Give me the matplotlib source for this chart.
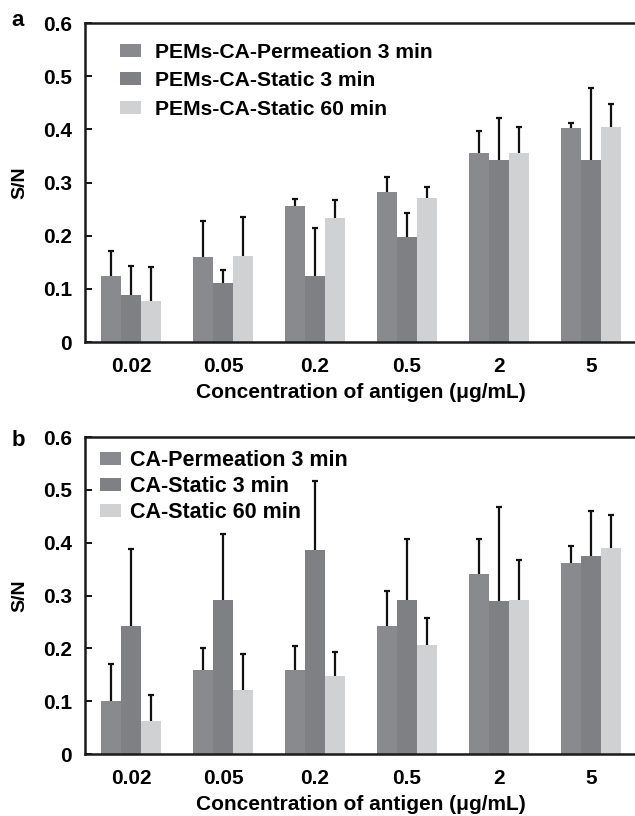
import numpy as np
import matplotlib
matplotlib.use("Agg")
import matplotlib.pyplot as plt

plt.rcParams['font.family'] = ['Liberation Sans', 'DejaVu Sans']
plt.rcParams['font.weight'] = 'bold'
plt.rcParams['axes.labelweight'] = 'bold'

concentrations = ['0.02', '0.05', '0.2', '0.5', '2', '5']

# panel a: PEMs-CA
a_labels = ['PEMs-CA-Permeation 3 min', 'PEMs-CA-Static 3 min', 'PEMs-CA-Static 60 min']
a_perm3 = [0.125, 0.160, 0.256, 0.282, 0.355, 0.403]
a_perm3_top = [0.172, 0.228, 0.269, 0.311, 0.397, 0.412]
a_stat3 = [0.088, 0.111, 0.125, 0.198, 0.343, 0.343]
a_stat3_top = [0.143, 0.135, 0.215, 0.242, 0.422, 0.478]
a_stat60 = [0.077, 0.161, 0.233, 0.270, 0.356, 0.404]
a_stat60_top = [0.142, 0.235, 0.267, 0.292, 0.405, 0.448]

# panel b: CA
b_labels = ['CA-Permeation 3 min', 'CA-Static 3 min', 'CA-Static 60 min']
b_perm3 = [0.100, 0.159, 0.159, 0.242, 0.340, 0.362]
b_perm3_top = [0.171, 0.201, 0.204, 0.309, 0.406, 0.393]
b_stat3 = [0.242, 0.291, 0.387, 0.291, 0.290, 0.375]
b_stat3_top = [0.388, 0.416, 0.516, 0.406, 0.467, 0.460]
b_stat60 = [0.062, 0.122, 0.147, 0.206, 0.291, 0.389]
b_stat60_top = [0.111, 0.190, 0.194, 0.257, 0.367, 0.453]

colors = ['#898a8e', '#7f8084', '#d0d1d3']
W, H = 635, 816


def panel(ax, series, tops, labels, leg):
    x = np.arange(len(concentrations))
    w = 0.22
    for i, (vals, top) in enumerate(zip(series, tops)):
        xi = x + (i - 1) * w
        ax.bar(xi, vals, w, color=colors[i], label=labels[i], zorder=2)
        # upper error bar only, no cap at bar top
        ax.vlines(xi, vals, top, color='#111111', lw=1.6, zorder=3)
        ax.plot(xi, top, ls='none', marker='_', ms=5, mew=1.6, color='#111111', zorder=3)
    ax.set_xlim(-0.5, 5.5)
    ax.set_ylim(0, 0.6)
    ax.set_xticks(x)
    ax.set_xticklabels(concentrations)
    ax.set_yticks([0, 0.1, 0.2, 0.3, 0.4, 0.5, 0.6])
    ax.set_yticklabels(['0', '0.1', '0.2', '0.3', '0.4', '0.5', '0.6'])
    ax.tick_params(axis='y', direction='in', length=5, width=1.3, labelsize=15, pad=9.5)
    ax.tick_params(axis='x', length=0, labelsize=15, pad=11)
    for s in ax.spines.values():
        s.set_linewidth(1.8)
        s.set_color('#1a1a1a')
    ax.set_xlabel('Concentration of antigen (\u03bcg/mL)', fontsize=15, labelpad=5)
    ax.set_ylabel('S/N', fontsize=14)
    ax.yaxis.set_label_coords(-0.103, 0.5)
    ax.legend(loc='upper left', frameon=False, borderaxespad=0, borderpad=0, **leg)


fig = plt.figure(figsize=(W / 100, H / 100), dpi=100)
left = 85 / W
width = (637 - 85) / W
ax1 = fig.add_axes([left, 1 - 342 / H, width, (342 - 23) / H])
ax2 = fig.add_axes([left, 1 - 754 / H, width, (754 - 437) / H])

panel(ax1, [a_perm3, a_stat3, a_stat60], [a_perm3_top, a_stat3_top, a_stat60_top], a_labels,
      dict(bbox_to_anchor=(0.063, 0.938), fontsize=15.2, handlelength=1.0, handleheight=0.55,
           handletextpad=0.67, labelspacing=0.45))
panel(ax2, [b_perm3, b_stat3, b_stat60], [b_perm3_top, b_stat3_top, b_stat60_top], b_labels,
      dict(bbox_to_anchor=(0.027, 0.96), fontsize=15.5, handlelength=1.0, handleheight=0.55,
           handletextpad=0.4, labelspacing=0.24))

fig.text(18 / W, 1 - 20 / H, 'a', fontsize=16, fontweight='bold', ha='center', va='center')
fig.text(18 / W, 1 - 441 / H, 'b', fontsize=16, fontweight='bold', ha='center', va='center')

fig.savefig('out.png', dpi=100)
